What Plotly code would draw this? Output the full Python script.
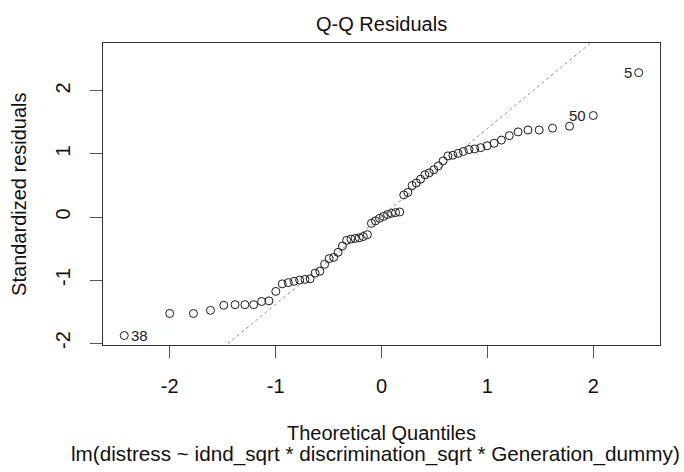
import plotly.graph_objects as go

# Theoretical quantiles (x) and standardized residuals (y)
theoretical_q = [
    -2.429, -2.000, -1.776, -1.615, -1.489, -1.383, -1.290, -1.207, -1.132, -1.063,
    -0.998, -0.937, -0.880, -0.826, -0.773, -0.723, -0.674, -0.627, -0.582, -0.537,
    -0.494, -0.451, -0.410, -0.369, -0.329, -0.289, -0.249, -0.210, -0.172, -0.133,
    -0.095, -0.057, -0.019, 0.019, 0.057, 0.095, 0.133, 0.172, 0.210, 0.249,
    0.289, 0.329, 0.369, 0.410, 0.451, 0.494, 0.537, 0.582, 0.627, 0.674,
    0.723, 0.773, 0.826, 0.880, 0.937, 0.998, 1.063, 1.132, 1.207, 1.290,
    1.383, 1.489, 1.615, 1.776, 2.000, 2.429,
]
std_resid = [
    -1.88, -1.53, -1.53, -1.48, -1.40, -1.39, -1.39, -1.39, -1.34, -1.33,
    -1.18, -1.06, -1.04, -1.02, -1.00, -0.99, -0.98, -0.89, -0.86, -0.75,
    -0.66, -0.64, -0.56, -0.46, -0.37, -0.35, -0.34, -0.33, -0.31, -0.28,
    -0.10, -0.06, -0.02, 0.01, 0.04, 0.06, 0.07, 0.08, 0.35, 0.39,
    0.50, 0.54, 0.60, 0.67, 0.70, 0.75, 0.81, 0.89, 0.97, 0.98,
    1.01, 1.04, 1.07, 1.08, 1.10, 1.13, 1.17, 1.22, 1.29, 1.35,
    1.38, 1.38, 1.41, 1.44, 1.61, 2.29,
]

# Labelled observations: (index into arrays, label)
labelled_idx = [0, 64, 65]
labelled_txt = ["38", "50", "5"]

# Reference line (qqline) parameters
qqline_intercept = 0.01
qqline_slope = 1.393

x_tick_vals = [-2, -1, 0, 1, 2]
x_tick_text = ["-2", "-1", "0", "1", "2"]
y_tick_vals = [-2, -1, 0, 1, 2]
y_tick_text = ["-2", "-1", "0", "1", "2"]

x_range = [-2.63, 2.63]
y_range = [-2.03, 2.76]

FONT = "Liberation Sans, Arial, sans-serif"

fig = go.Figure()

line_x = list(x_range)
line_y = [qqline_intercept + qqline_slope * v for v in line_x]
fig.add_trace(go.Scatter(
    x=line_x, y=line_y, mode="lines",
    line=dict(color="#8c8c8c", width=1, dash="dot"),
    hoverinfo="skip", showlegend=False,
))

fig.add_trace(go.Scatter(
    x=theoretical_q, y=std_resid, mode="markers",
    marker=dict(symbol="circle-open", size=8, color="#1a1a1a",
                line=dict(width=1, color="#1a1a1a")),
    showlegend=False,
))

for idx, txt in zip(labelled_idx, labelled_txt):
    left_side = theoretical_q[idx] < 0
    fig.add_annotation(
        x=theoretical_q[idx], y=std_resid[idx], text=txt, showarrow=False,
        xanchor="left" if left_side else "right",
        xshift=5 if left_side else -5, yanchor="middle",
        font=dict(family=FONT, size=15, color="#222222"),
    )

# Titles as annotations (paper coords)
fig.add_annotation(x=0.5, y=1.063, xref="paper", yref="paper",
                   text="Q-Q Residuals", showarrow=False,
                   xanchor="center", yanchor="middle",
                   font=dict(family=FONT, size=20, color="#111111"))
fig.add_annotation(x=0.5, y=-0.293, xref="paper", yref="paper",
                   text="Theoretical Quantiles", showarrow=False,
                   xanchor="center", yanchor="middle",
                   font=dict(family=FONT, size=20, color="#111111"))
fig.add_annotation(x=0.49, y=-0.36, xref="paper", yref="paper",
                   text="lm(distress ~ idnd_sqrt * discrimination_sqrt * Generation_dummy)",
                   showarrow=False, xanchor="center", yanchor="middle",
                   font=dict(family=FONT, size=20.7, color="#111111"))
fig.add_annotation(x=-0.151, y=0.5, xref="paper", yref="paper",
                   text="Standardized residuals", showarrow=False, textangle=-90,
                   xanchor="center", yanchor="middle",
                   font=dict(family=FONT, size=20, color="#111111"))

axis_common = dict(
    showgrid=False, zeroline=False, showline=True, mirror=True,
    linecolor="#333333", linewidth=1.2,
    ticks="outside", ticklen=12, tickwidth=1.2, tickcolor="#555555",
    tickfont=dict(family=FONT, size=20, color="#111111"),
)

fig.update_xaxes(range=x_range, tickvals=x_tick_vals, ticktext=x_tick_text,
                 ticklabelstandoff=11, **axis_common)
fig.update_yaxes(range=y_range, tickvals=y_tick_vals, ticktext=y_tick_text,
                 tickangle=-90, ticklabelstandoff=12, **axis_common)

fig.update_layout(
    width=684, height=472,
    margin=dict(l=103, r=24, t=43, b=127),
    paper_bgcolor="white", plot_bgcolor="white",
    showlegend=False,
)

fig.write_html("out.html")
